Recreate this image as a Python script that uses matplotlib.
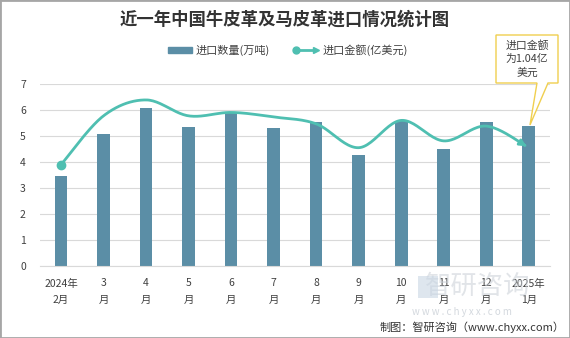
import numpy as np
import matplotlib
matplotlib.use('Agg')
import matplotlib.pyplot as plt
from matplotlib.patches import FancyArrowPatch, Polygon, Rectangle
from matplotlib.lines import Line2D

plt.rcParams['font.family'] = ['Noto Sans CJK SC', 'DejaVu Sans']

months = ['2024年\n2月', '3\n月', '4\n月', '5\n月', '6\n月', '7\n月',
          '8\n月', '9\n月', '10\n月', '11\n月', '12\n月', '2025年\n1月']
# 进口数量(万吨)
quantity = [3.45, 5.08, 6.06, 5.33, 5.94, 5.29, 5.53, 4.28, 5.59, 4.50, 5.55, 5.40]
# 进口金额(亿美元)
amount = [0.89, 1.32, 1.46, 1.32, 1.35, 1.31, 1.25, 1.04, 1.28, 1.10, 1.23, 1.04]

BAR = '#5b8ea6'
LINE = '#4fbfb1'
W, H = 570, 338


def px(x, y):
    # pixel (from top-left) -> figure fraction
    return x / W, 1 - y / H


def catmull(x, y, n=24):
    # smoothed line like the spreadsheet "smooth line" option
    p = np.column_stack([x, y]).astype(float)
    p = np.vstack([p[0], p, p[-1]])
    out = []
    for i in range(1, len(p) - 2):
        p0, p1, p2, p3 = p[i - 1], p[i], p[i + 1], p[i + 2]
        t = np.linspace(0, 1, n, endpoint=False)[:, None]
        seg = 0.5 * ((2 * p1) + (-p0 + p2) * t +
                     (2 * p0 - 5 * p1 + 4 * p2 - p3) * t ** 2 +
                     (-p0 + 3 * p1 - 3 * p2 + p3) * t ** 3)
        out.append(seg)
    out.append(p[-2][None, :])
    out = np.vstack(out)
    return out[:, 0], out[:, 1]


fig = plt.figure(figsize=(W / 100, H / 100), dpi=100)
l, b = px(39.7, 266)
r, t = px(550, 84)
ax = fig.add_axes([l, b, r - l, t - b])
ax2 = ax.twinx()

x = np.arange(len(months))
ax.bar(x, quantity, width=0.3, color=BAR, zorder=2)
ax.set_ylim(0, 7)
ax.set_xlim(-0.5, len(months) - 0.5)
ax.set_yticks(range(8))
ax.grid(axis='y', color='#d9d9d9', linewidth=0.8, zorder=0)
ax.set_axisbelow(True)
for s in ['top', 'right', 'left']:
    ax.spines[s].set_visible(False)
ax.spines['bottom'].set_color('#d9d9d9')
ax.tick_params(length=0, labelsize=7.5, colors='#404040', pad=9)
ax.tick_params(axis='y', pad=10)
ax.set_xticks(x)
ax.set_xticklabels(months, linespacing=1.75)

sx, sy = catmull(x, amount)
ax2.set_ylim(0, 1.6)
ax2.axis('off')
ax2.plot(sx[:-4], sy[:-4], color=LINE, linewidth=2, zorder=3, solid_capstyle='round')
ax2.add_patch(FancyArrowPatch((sx[-6], sy[-6]), (sx[-1], sy[-1]), arrowstyle='-|>',
                              mutation_scale=9, color=LINE, linewidth=2, zorder=3))
ax2.plot(x[0], amount[0], 'o', color=LINE, markersize=6, zorder=4)

# title
fig.text(*px(285, 20), '近一年中国牛皮革及马皮革进口情况统计图', ha='center', va='center',
         fontsize=12.5, fontweight='bold', color='#333333')

# legend
fig.patches.append(Rectangle(px(168, 53), 24 / W, 6 / H, transform=fig.transFigure,
                             color=BAR, figure=fig))
fig.text(*px(196, 50), '进口数量(万吨)', va='center', fontsize=8, color='#404040')
fig.lines.append(Line2D([295 / W, 312 / W], [1 - 50 / H] * 2, transform=fig.transFigure,
                        color=LINE, linewidth=2, figure=fig))
fig.lines.append(Line2D([296 / W], [1 - 50 / H], transform=fig.transFigure, marker='o',
                        markersize=5, color=LINE, figure=fig))
fig.lines.append(Line2D([316 / W], [1 - 50 / H], transform=fig.transFigure, marker='>',
                        markersize=5, color=LINE, figure=fig))
fig.text(*px(323, 50), '进口金额(亿美元)', va='center', fontsize=8, color='#404040')

# callout
pts = [px(496, 35), px(558, 35), px(558, 83), px(548, 83), px(530, 125),
       px(537, 83), px(496, 83)]
fig.patches.append(Polygon(pts, closed=True, transform=fig.transFigure, facecolor='white',
                           edgecolor='#f0cf4f', linewidth=1, zorder=5, figure=fig))
fig.text(*px(527, 59), '进口金额\n为1.04亿\n美元', ha='center', va='center', fontsize=7.8,
         color='#404040', linespacing=1.45, zorder=6)

# watermark
fig.patches.append(Rectangle(px(418, 298), 20 / W, 22 / H, transform=fig.transFigure,
                             facecolor='#c9d6e3', edgecolor='none', alpha=0.6, figure=fig))
fig.text(*px(478, 286), '智研咨询', ha='center', va='center', fontsize=19,
         color='#c9cfd6', alpha=0.55, zorder=0)
fig.text(*px(462, 312), 'w w w . c h y x x . c o m', ha='center', va='center',
         fontsize=7, color='#c9cfd6', alpha=0.8)

# source
fig.text(*px(565, 327), '制图：智研咨询（www.chyxx.com）', ha='right', va='center',
         fontsize=8, color='#333333')

# frame
fig.patches.append(Rectangle((0, 0), 1, 1, transform=fig.transFigure, fill=False,
                             edgecolor='#a6a6a6', linewidth=2, figure=fig))

fig.savefig('out.png', dpi=100)
